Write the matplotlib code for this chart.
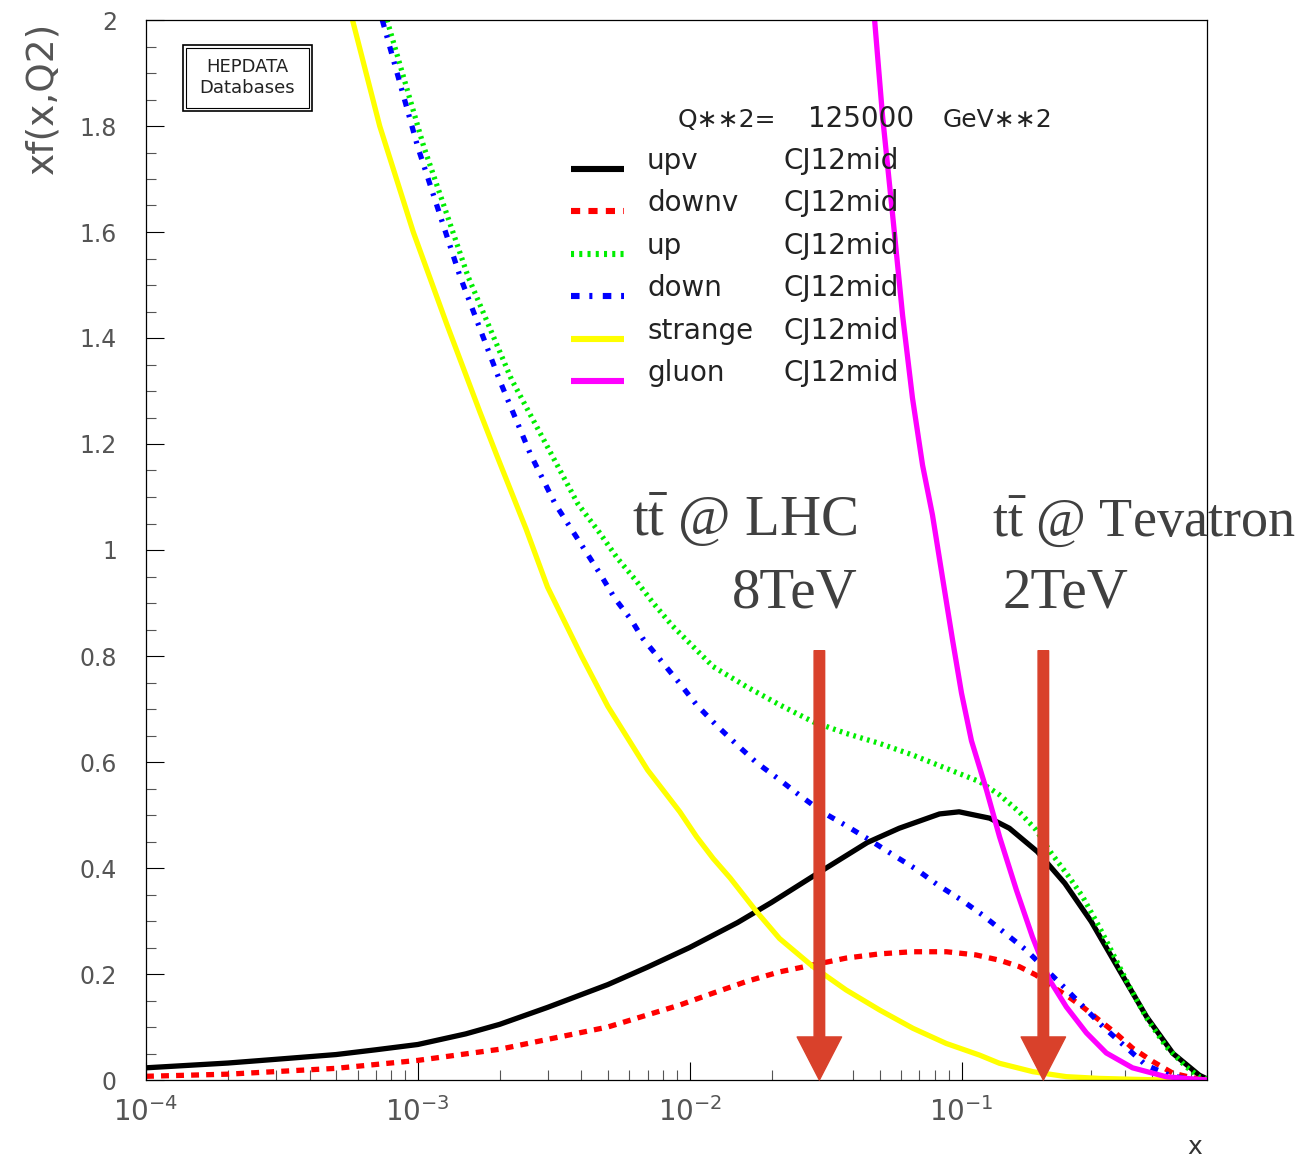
import numpy as np
import matplotlib
matplotlib.use("Agg")
import matplotlib.pyplot as plt
from matplotlib.ticker import MultipleLocator, LogLocator, FuncFormatter, NullFormatter
from matplotlib.patches import Rectangle

# ---- data (CJ12mid, Q^2 = 125000 GeV^2) ----
upv_x = [1e-4, 2e-4, 3e-4, 5e-4, 7e-4, 1e-3, 1.5e-3, 2e-3, 3e-3, 5e-3, 7e-3, 1e-2, 1.5e-2,
         2e-2, 3e-2, 0.045, 0.059, 0.083, 0.098, 0.127, 0.15, 0.19, 0.24, 0.30, 0.38,
         0.48, 0.6, 0.75, 0.8]
upv_y = [0.023, 0.032, 0.039, 0.048, 0.057, 0.067, 0.087, 0.105, 0.137, 0.18, 0.213, 0.25,
         0.297, 0.335, 0.392, 0.448, 0.475, 0.502, 0.506, 0.494, 0.475, 0.431, 0.371,
         0.299, 0.208, 0.119, 0.05, 0.009, 0.002]

downv_x = [1e-4, 2e-4, 5e-4, 1e-3, 2e-3, 5e-3, 9.2e-3, 0.0122, 0.0162, 0.0214, 0.0284,
           0.0376, 0.05, 0.066, 0.088, 0.113, 0.138, 0.163, 0.188, 0.211, 0.243, 0.279,
           0.321, 0.37, 0.426, 0.505, 0.598, 0.708, 0.8]
downv_y = [0.007, 0.011, 0.022, 0.037, 0.058, 0.1, 0.1415, 0.164, 0.186, 0.204, 0.217,
           0.230, 0.238, 0.242, 0.242, 0.236, 0.226, 0.214, 0.198, 0.179, 0.160, 0.138,
           0.113, 0.088, 0.060, 0.035, 0.013, 0.004, 0.0]

up_x = [7.7e-4, 1.05e-3, 1.53e-3, 2.21e-3, 3.88e-3, 4.67e-3, 5.43e-3, 6.33e-3, 7.37e-3,
        8.6e-3, 0.0109, 0.0122, 0.0162, 0.0214, 0.0284, 0.0376, 0.05, 0.0663, 0.0878,
        0.1165, 0.138, 0.163, 0.188, 0.214, 0.248, 0.279, 0.321, 0.36, 0.415, 0.477,
        0.566, 0.67, 0.75, 0.8]
up_y = [2.0, 1.762, 1.516, 1.322, 1.087, 1.032, 0.984, 0.943, 0.899, 0.858, 0.805, 0.780,
        0.742, 0.708, 0.676, 0.654, 0.635, 0.613, 0.588, 0.563, 0.538, 0.506, 0.472,
        0.428, 0.384, 0.346, 0.289, 0.239, 0.176, 0.119, 0.063, 0.025, 0.006, 0.002]

down_x = [7.4e-4, 1e-3, 1.43e-3, 2e-3, 2.6e-3, 3.2e-3, 4.67e-3, 5.3e-3, 6.1e-3, 6.7e-3,
          9.2e-3, 0.0106, 0.0125, 0.0149, 0.0176, 0.0211, 0.0254, 0.0309, 0.0376, 0.0459,
          0.0559, 0.068, 0.0818, 0.0997, 0.1197, 0.173, 0.243, 0.331, 0.477, 0.582, 0.689, 0.8]
down_y = [2.0, 1.76, 1.516, 1.32, 1.18, 1.087, 0.956, 0.909, 0.868, 0.834,
          0.748, 0.708, 0.670, 0.633, 0.599, 0.569, 0.537, 0.505, 0.480, 0.453,
          0.425, 0.398, 0.368, 0.34, 0.311, 0.245, 0.171, 0.101, 0.028, 0.009, 0.001, 0.0]

strange_x = [5.75e-4, 7.24e-4, 9.62e-4, 1.28e-3, 1.69e-3, 1.95e-3, 2.5e-3, 3e-3, 4e-3, 5e-3,
             7e-3, 9.2e-3, 0.0106, 0.0122, 0.0141, 0.0176, 0.0214, 0.0284, 0.0376, 0.05,
             0.0663, 0.0878, 0.1165, 0.138, 0.183, 0.243, 0.321, 0.5, 0.8]
strange_y = [2.0, 1.80, 1.60, 1.425, 1.261, 1.179, 1.04, 0.93, 0.80, 0.705,
             0.585, 0.506, 0.459, 0.418, 0.381, 0.318, 0.267, 0.214, 0.170, 0.132,
             0.0975, 0.069, 0.047, 0.0315, 0.0157, 0.0063, 0.003, 0.0005, 0.0]

gluon_x = [0.0479, 0.0512, 0.0558, 0.0607, 0.066, 0.0719, 0.0782, 0.085, 0.0927, 0.1,
           0.1088, 0.1236, 0.138, 0.1593, 0.1824, 0.2106, 0.243, 0.288, 0.341, 0.4256,
           0.5675, 0.75, 0.8]
gluon_y = [2.0, 1.82, 1.632, 1.443, 1.287, 1.16, 1.066, 0.95, 0.83, 0.73,
           0.64, 0.547, 0.459, 0.358, 0.27, 0.189, 0.138, 0.089, 0.051, 0.023,
           0.006, 0.001, 0.0]

series_names = ["upv", "downv", "up", "down", "strange", "gluon"]
pdf_set = "CJ12mid"
q2_text = ["Q\u2217\u22172=", "125000", "GeV\u2217\u22172"]

# arrows marking typical x for ttbar production
arrow_x = [0.03, 0.2]
arrow_top = 0.81

LW = 3.8
styles = [
    dict(color="#000000", linestyle="-"),
    dict(color="#ff0000", linestyle=(0, (1.5, 1.35))),
    dict(color="#00ee00", linestyle=(0, (0.5, 0.85))),
    dict(color="#0000ff", linestyle=(0, (1.4, 1.6, 0.5, 1.7))),
    dict(color="#ffff00", linestyle="-"),
    dict(color="#ff00ff", linestyle="-"),
]
curves = [(upv_x, upv_y), (downv_x, downv_y), (up_x, up_y),
          (down_x, down_y), (strange_x, strange_y), (gluon_x, gluon_y)]

fig = plt.figure(figsize=(13.07, 11.58), dpi=100)
ax = fig.add_axes([146 / 1307, 78 / 1158, 1061 / 1307, 1060 / 1158])
ax.set_xscale("log")
ax.set_xlim(1e-4, 0.8)
ax.set_ylim(0, 2)

for (cx, cy), st in zip(curves, styles):
    ax.plot(cx, cy, lw=LW, solid_capstyle="butt", dash_capstyle="butt",
            solid_joinstyle="round", **st)

# axes cosmetics
for sp in ax.spines.values():
    sp.set_linewidth(0.9)
ax.yaxis.set_major_locator(MultipleLocator(0.2))
ax.yaxis.set_minor_locator(MultipleLocator(0.05))
ax.yaxis.set_major_formatter(FuncFormatter(lambda v, p: "%g" % round(v, 2)))
ax.xaxis.set_major_locator(LogLocator(base=10))
ax.xaxis.set_minor_locator(LogLocator(base=10, subs=np.arange(2, 10)))
ax.xaxis.set_minor_formatter(NullFormatter())
ax.tick_params(which="both", direction="in", top=False, right=False, width=0.8)
ax.tick_params(which="major", length=13)
ax.tick_params(which="minor", length=7.2, color="#555555")
ax.tick_params(axis="y", labelsize=17, labelcolor="#555555", pad=21)
ax.tick_params(axis="x", labelsize=20, labelcolor="#555555", pad=12)

fig.text(42 / 1307, 1 - 22 / 1158, "xf(x,Q2)", rotation=90, ha="center", va="top",
         fontsize=27, color="#555555")
fig.text(1195 / 1307, 1 - 1154 / 1158, "x", ha="center", va="baseline",
         fontsize=18, color="#333333")

# HEPDATA logo box
ax.add_patch(Rectangle((0.0349, 0.9142), 0.1216, 0.0622, transform=ax.transAxes,
                       fill=False, lw=1.2, ec="black"))
ax.add_patch(Rectangle((0.0377, 0.917), 0.1159, 0.0566, transform=ax.transAxes,
                       fill=False, lw=0.8, ec="black"))
ax.text(0.0952, 0.9557, "HEPDATA", transform=ax.transAxes, ha="center", va="center",
        fontsize=13, color="#222222")
ax.text(0.0952, 0.9358, "Databases", transform=ax.transAxes, ha="center", va="center",
        fontsize=13, color="#222222")

# legend drawn HEPDATA style
ax.text(0.5014, 0.899, q2_text[0], transform=ax.transAxes, fontsize=18, color="#222222")
ax.text(0.624, 0.899, q2_text[1], transform=ax.transAxes, fontsize=20, color="#222222")
ax.text(0.7512, 0.899, q2_text[2], transform=ax.transAxes, fontsize=18, color="#222222")
row0, step = 0.8594, 0.0400
for i, (name, st) in enumerate(zip(series_names, styles)):
    yy = row0 - i * step
    ax.plot([0.4006, 0.4505], [yy, yy], transform=ax.transAxes, lw=LW + 0.6,
            solid_capstyle="butt", dash_capstyle="butt", **st)
    ax.text(0.4722, yy, name, transform=ax.transAxes, fontsize=20, va="baseline",
            color="#222222")
    ax.text(0.6013, yy, pdf_set, transform=ax.transAxes, fontsize=20, va="baseline",
            color="#222222")

# arrows and annotations
arrow_col = "#d9412b"
for xa in arrow_x:
    ax.annotate("", xy=(xa, 0.0), xytext=(xa, arrow_top),
                arrowprops=dict(arrowstyle="simple,head_length=3.1,head_width=3.2,tail_width=0.76",
                                color=arrow_col, shrinkA=0, shrinkB=0, mutation_scale=10),
                zorder=10)

serif = dict(family="Liberation Serif", color="#404040")
ax.text(0.458, 0.513, r"t$\mathregular{\bar{t}}$ @ LHC", transform=ax.transAxes,
        va="baseline", ha="left", fontsize=41, **serif)
ax.text(0.671, 0.4453, "8TeV", transform=ax.transAxes, va="baseline", ha="right",
        fontsize=41, **serif)
ax.text(0.7974, 0.513, r"t$\mathregular{\bar{t}}$ @ Tevatron", transform=ax.transAxes,
        va="baseline", ha="left", fontsize=39, **serif)
ax.text(0.8077, 0.4453, "2TeV", transform=ax.transAxes, va="baseline", ha="left",
        fontsize=41, **serif)

fig.savefig("out.png", dpi=100)
